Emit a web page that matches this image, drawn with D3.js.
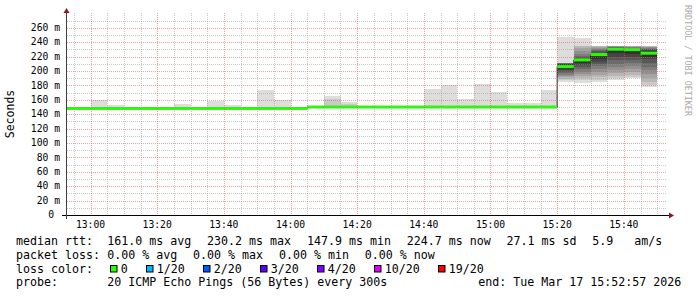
<!DOCTYPE html>
<html>
<head>
<meta charset="utf-8">
<script src="https://cdn.jsdelivr.net/npm/d3@7/dist/d3.min.js"></script>
<style>
  html, body { margin: 0; padding: 0; background: #ffffff; }
  svg { display: block; }
  text { font-family: "DejaVu Sans Mono", monospace; white-space: pre; }
</style>
</head>
<body>
<script>
// ---------------- data ----------------
const binTimes = ["12:50","12:55","13:00","13:05","13:10","13:15","13:20","13:25","13:30","13:35",
  "13:40","13:45","13:50","13:55","14:00","14:05","14:10","14:15","14:20","14:25",
  "14:30","14:35","14:40","14:45","14:50","14:55","15:00","15:05","15:10","15:15",
  "15:20","15:25","15:30","15:35","15:40","15:45"];

// median RTT per 5-minute bin (ms)
const medianRtt = [147.9,147.9,147.9,147.9,147.9,147.9,147.9,147.9,147.9,147.9,
  147.9,147.9,147.9,147.9,147.9,149.9,149.9,149.9,149.9,149.9,
  149.9,149.9,149.9,149.9,149.9,149.9,149.9,149.9,149.9,149.9,
  206.0,215.3,222.7,230.2,229.6,224.7];

// smoke bands per bin, outermost first: [low ping, high ping] (ms)
const smokeBands = [
  [[147.2,148.8]],
  [[147.2,149.0]],
  [[147.3,160.1]],
  [[147.3,152.8]],
  [[147.2,149.0]],
  [[147.2,149.0]],
  [[147.3,149.0]],
  [[147.3,154.2]],
  [[147.2,149.0]],
  [[147.3,158.8]],
  [[147.3,152.8]],
  [[147.2,149.0]],
  [[147.4,173.6]],
  [[147.3,159.3]],
  [[147.2,149.0]],
  [[149.2,151.0]],
  [[149.2,165.3],[149.4,160.7]],
  [[149.2,157.4],[149.4,153.5]],
  [[149.2,151.0]],
  [[149.2,151.0]],
  [[149.2,151.0]],
  [[149.2,151.0]],
  [[149.3,174.5]],
  [[149.3,180.5]],
  [[149.3,160.6]],
  [[149.3,182.0]],
  [[149.3,170.8]],
  [[149.3,155.0]],
  [[149.3,156.0]],
  [[149.3,173.6]],
  [[185,247.6],[187,211],[189,211],[191,210.8],[193,210.6],[195,210.5],[197,210.4],[199,210.3],[201,210.2],[203,210]],
  [[183,245.5],[187,235],[190,234],[193,232],[196,228],[199,224],[202,221],[205,219],[208,218],[211,217]],
  [[185,235],[188,234.5],[191,234],[195,233],[199,232],[203,231],[207,229],[210,227],[213,225],[216,224]],
  [[187.5,235],[190,235],[193,234.5],[197,234],[201,234],[205,233.5],[210,233],[215,233],[220,232.5],[225,232]],
  [[189.8,235],[192,235],[195,234.5],[199,234],[203,233.5],[207,233],[211,232.5],[215,232],[219,231.5],[223,231]],
  [[178,234.7],[181,234.5],[185,234],[190,233.5],[196,233],[201,232],[206,231],[211,230],[216,229],[220,228]]
];

const yTicks = [0,20,40,60,80,100,120,140,160,180,200,220,240,260];
const yTickLabels = ["0 ","20 m","40 m","60 m","80 m","100 m","120 m","140 m","160 m","180 m","200 m","220 m","240 m","260 m"];
const xTickLabels = ["13:00","13:20","13:40","14:00","14:20","14:40","15:00","15:20","15:40"];

const rowLabels = ["median rtt:","packet loss:","loss color:","probe:"];
const rttStats = ["161.0 ms avg","230.2 ms max","147.9 ms min","224.7 ms now","27.1 ms sd","5.9   am/s"];
const lossStats = ["0.00 % avg","0.00 % max","0.00 % min","0.00 % now"];
const lossNames = ["0","1/20","2/20","3/20","4/20","10/20","19/20"];
const lossColors = ["#26ff00","#00b8ff","#0059ff","#5e00ff","#7e00ff","#dd00ff","#ff0000"];
const probeText = "20 ICMP Echo Pings (56 Bytes) every 300s";
const endText = "end: Tue Mar 17 15:52:57 2026";
const yTitle = "Seconds";
const watermark = "RRDTOOL / TOBI OETIKER";

// ---------------- drawing ----------------
const W = 697, H = 297;
const day = "2026-03-17T";
const parseT = s => new Date(day + s + (s.length === 5 ? ":00" : ""));
const tStart = parseT("12:52:57"), tEnd = parseT("15:52:57");
const pL = 67, pR = 667, pT = 13.3, pB = 215;

const svg = d3.select("body").append("svg").attr("width", W).attr("height", H);
svg.append("rect").attr("width", W).attr("height", H).attr("fill", "#ffffff");

const x = d3.scaleTime().domain([tStart, tEnd]).range([pL, pR]);
const y = d3.scaleLinear().domain([0, 280]).range([pB, pT]);

svg.append("clipPath").attr("id", "plot").append("rect")
  .attr("x", pL).attr("y", pT).attr("width", pR - pL).attr("height", pB - pT);

const g = svg.append("g").attr("clip-path", "url(#plot)");
const binStart = binTimes.map(parseT);
const binEnd = binStart.map(d => d3.timeMinute.offset(d, 5));

// smoke
const shade = j => { const c = Math.floor(190 / 10 * (10 - (j + 1))) + 50; return d3.rgb(c, c, c).formatHex(); };
binStart.forEach((t, i) => {
  smokeBands[i].forEach((b, j) => {
    g.append("rect")
      .attr("x", x(t)).attr("width", x(binEnd[i]) - x(t))
      .attr("y", y(b[1])).attr("height", y(b[0]) - y(b[1]))
      .attr("fill", shade(j)).attr("shape-rendering", "crispEdges");
  });
});

// grid (drawn over smoke)
const gridG = svg.append("g").attr("shape-rendering", "crispEdges");
const minorCol = "rgba(150,150,150,0.5)", majorCol = "rgba(225,90,90,0.55)";
const fiveMin = d3.timeMinute.every(5).range(tStart, tEnd);
fiveMin.forEach(t => {
  const major = t.getMinutes() % 20 === 0;
  gridG.append("line").attr("x1", Math.round(x(t)) + 0.5).attr("x2", Math.round(x(t)) + 0.5)
    .attr("y1", pT).attr("y2", pB)
    .attr("stroke", major ? majorCol : minorCol).attr("stroke-dasharray", "1,1");
});
d3.range(10, 280, 10).forEach(v => {
  const major = v % 20 === 0;
  gridG.append("line").attr("x1", pL).attr("x2", pR)
    .attr("y1", Math.round(y(v)) + 0.5).attr("y2", Math.round(y(v)) + 0.5)
    .attr("stroke", major ? majorCol : minorCol).attr("stroke-dasharray", "1,1");
});

// median: dark step line then loss-colored band
const stepPts = binStart.map((t, i) => [x(t), y(medianRtt[i])]);
stepPts.push([x(binEnd[binEnd.length - 1]), y(medianRtt[medianRtt.length - 1])]);
g.append("path").attr("d", d3.line().curve(d3.curveStepAfter)(stepPts))
  .attr("fill", "none").attr("stroke", "#202020").attr("stroke-width", 1);
binStart.forEach((t, i) => {
  g.append("rect").attr("x", x(t)).attr("width", x(binEnd[i]) - x(t))
    .attr("y", y(medianRtt[i]) - 1.5).attr("height", 3)
    .attr("fill", lossColors[0]);
});

// axes
const axisCol = "#000000", arrowCol = "#8b1a1a";
svg.append("line").attr("x1", 62).attr("x2", 671).attr("y1", pB + 0.5).attr("y2", pB + 0.5)
  .attr("stroke", axisCol);
svg.append("line").attr("x1", pL - 0.5).attr("x2", pL - 0.5).attr("y1", pB + 4).attr("y2", 11)
  .attr("stroke", "#404040");
svg.append("path").attr("d", `M669,212.5 L674,215.5 L669,218.5 Z`).attr("fill", arrowCol);
svg.append("path").attr("d", `M63.5,13 L66.5,8 L69.5,13 Z`).attr("fill", arrowCol);

// y labels
const axisFont = 9.7;
yTicks.forEach((v, i) => {
  svg.append("text").attr("x", 60).attr("y", y(v) + 3.2).attr("text-anchor", "end")
    .attr("font-size", axisFont).attr("fill", "#000").text(yTickLabels[i]);
});
// x labels
xTickLabels.forEach(s => {
  svg.append("text").attr("x", x(parseT(s))).attr("y", 227.5).attr("text-anchor", "middle")
    .attr("font-size", axisFont).attr("fill", "#000").text(s);
});

// y title
svg.append("text").attr("transform", `translate(14.3,114) rotate(-90)`).attr("text-anchor", "middle")
  .attr("font-size", 11.5).attr("fill", "#000").text(yTitle);

// watermark
svg.append("text").attr("transform", `translate(685,5) rotate(90)`)
  .attr("font-size", 8.4).attr("fill", "#aaaaaa").text(watermark);

// legend
const lf = 11.63, cw = 7.0, gap = 15.8, col = 107.3;
const rowsY = [245, 258.7, 272.5, 286.2];
rowLabels.forEach((s, i) => {
  svg.append("text").attr("x", 16).attr("y", rowsY[i]).attr("font-size", lf).text(s);
});
let cx = col;
rttStats.forEach(s => {
  svg.append("text").attr("x", cx).attr("y", rowsY[0]).attr("font-size", lf).text(s);
  cx += s.length * cw + gap;
});
cx = col;
lossStats.forEach(s => {
  svg.append("text").attr("x", cx).attr("y", rowsY[1]).attr("font-size", lf).text(s);
  cx += s.length * cw + gap;
});
cx = 110;
lossNames.forEach((s, i) => {
  svg.append("rect").attr("x", cx + 0.5).attr("y", 265.5).attr("width", 6.5).attr("height", 6.5)
    .attr("fill", lossColors[i]).attr("stroke", "#000").attr("stroke-width", 1);
  svg.append("text").attr("x", cx + 10.7).attr("y", rowsY[2]).attr("font-size", lf).text(s);
  cx += 10.7 + s.length * cw + 18.3;
});
svg.append("text").attr("x", col).attr("y", rowsY[3]).attr("font-size", lf).text(probeText);
svg.append("text").attr("x", 478.3).attr("y", rowsY[3]).attr("font-size", lf).text(endText);
</script>
</body>
</html>
